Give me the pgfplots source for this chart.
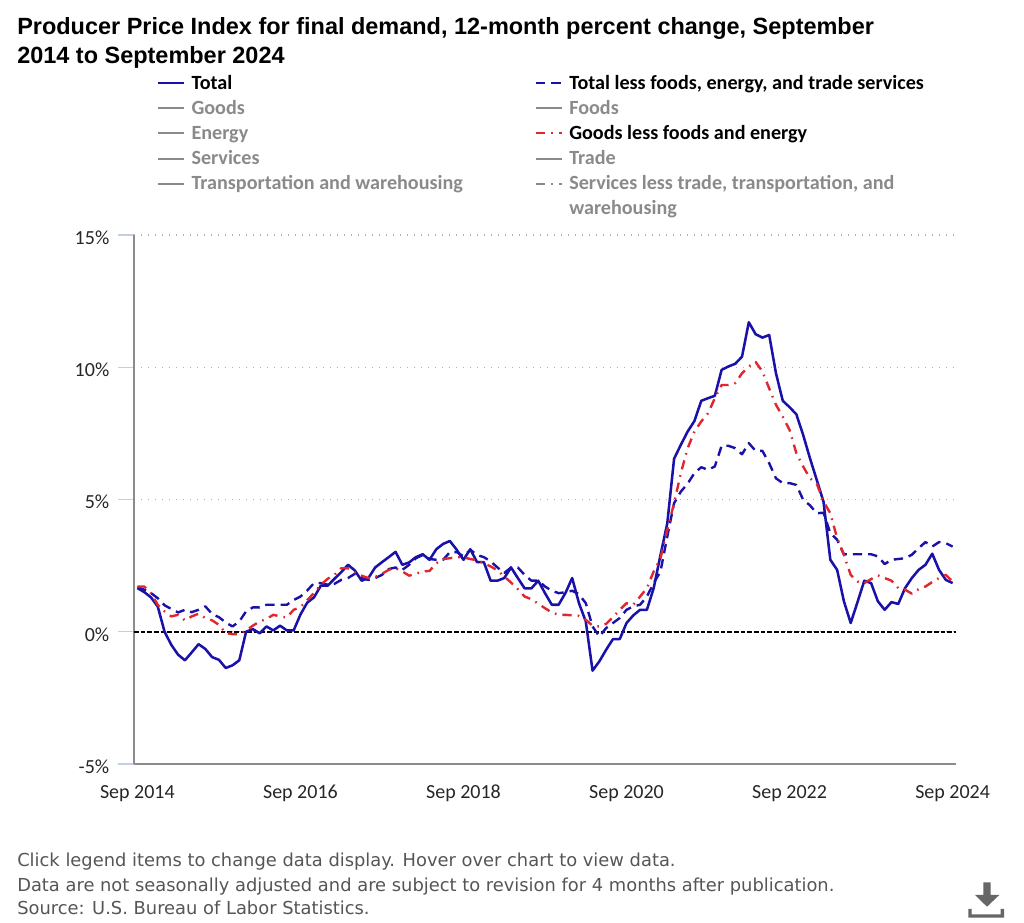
\documentclass[border=0pt]{standalone}
\usepackage{fontspec}
\setmainfont{Carlito}
\newfontfamily\titlefont{Liberation Sans}
\newfontfamily\notefont{DejaVu Sans}
\usepackage{pgfplots}
\usepackage{pgfplotstable}
\pgfplotsset{compat=1.18}

\definecolor{ppiblue}{HTML}{1A12A8}
\definecolor{ppired}{HTML}{E0262E}
\definecolor{offgray}{HTML}{8A8A8A}
\definecolor{tickblue}{HTML}{C0D0E0}
\definecolor{axisgray}{HTML}{8C8C8C}
\definecolor{gridgray}{HTML}{B0B0B0}
\definecolor{notegray}{HTML}{555555}

% months since Sep 2014, 12-month percent change
\pgfplotstableread{
i total core goods
0 1.65 1.69 1.71
1 1.50 1.59 1.71
2 1.30 1.46 1.46
3 0.95 1.27 1.02
4 0.00 1.00 0.77
5 -0.50 0.86 0.58
6 -0.87 0.73 0.64
7 -1.08 0.83 0.43
8 -0.78 0.74 0.58
9 -0.47 0.83 0.68
10 -0.65 0.96 0.52
11 -0.96 0.67 0.43
12 -1.06 0.55 0.26
13 -1.37 0.35 -0.05
14 -1.27 0.20 -0.09
15 -1.08 0.39 -0.09
16 0.00 0.77 0.05
17 0.10 0.92 0.23
18 -0.06 0.92 0.39
19 0.20 1.02 0.48
20 0.05 1.02 0.64
21 0.23 1.02 0.58
22 0.05 1.02 0.54
23 0.05 1.20 0.83
24 0.65 1.33 0.93
25 1.10 1.56 1.20
26 1.30 1.84 1.46
27 1.74 1.84 1.78
28 1.74 1.78 2.00
29 2.00 1.81 2.15
30 2.25 1.96 2.40
31 2.53 2.03 2.40
32 2.32 2.19 2.24
33 1.93 2.03 2.12
34 2.03 1.96 2.03
35 2.43 2.03 2.07
36 2.63 2.15 2.19
37 2.82 2.37 2.34
38 3.02 2.43 2.40
39 2.53 2.34 2.28
40 2.62 2.53 2.12
41 2.82 2.78 2.19
42 2.93 2.90 2.28
43 2.72 2.75 2.30
44 3.12 2.72 2.59
45 3.32 2.72 2.75
46 3.43 3.01 2.78
47 3.10 3.01 2.82
48 2.72 2.85 2.81
49 3.12 3.10 2.75
50 2.63 2.90 2.70
51 2.63 2.82 2.59
52 1.93 2.66 2.47
53 1.93 2.43 2.32
54 2.03 2.22 2.09
55 2.43 2.43 1.86
56 2.03 2.43 1.61
57 1.64 2.15 1.33
58 1.64 1.93 1.23
59 1.93 1.93 1.06
60 1.46 1.71 0.89
61 1.02 1.55 0.73
62 1.02 1.46 0.64
63 1.46 1.49 0.64
64 2.03 1.55 0.62
65 1.08 1.42 0.60
66 0.39 1.08 0.45
67 -1.47 0.20 0.23
68 -1.12 -0.18 0.20
69 -0.68 0.14 0.30
70 -0.28 0.33 0.55
71 -0.28 0.52 0.83
72 0.33 0.83 1.08
73 0.62 0.96 1.02
74 0.83 1.02 1.33
75 0.83 1.33 1.65
76 1.65 1.84 2.28
77 2.90 2.28 2.78
78 4.10 3.60 3.85
79 6.54 4.86 4.86
80 7.07 5.30 6.00
81 7.57 5.60 6.94
82 7.97 6.00 7.57
83 8.73 6.22 7.95
84 8.83 6.12 8.26
85 8.92 6.25 8.83
86 9.90 7.03 9.33
87 10.03 7.03 9.33
88 10.13 6.94 9.40
89 10.40 6.71 9.77
90 11.70 7.13 10.03
91 11.25 6.84 10.20
92 11.12 6.84 9.84
93 11.22 6.37 9.20
94 9.77 5.80 8.58
95 8.73 5.62 8.13
96 8.49 5.62 7.63
97 8.22 5.55 6.75
98 7.44 4.99 6.25
99 6.56 4.78 5.80
100 5.74 4.48 5.60
101 4.91 4.50 4.92
102 2.72 3.73 4.48
103 2.34 3.48 3.54
104 1.15 2.93 2.90
105 0.33 2.93 2.15
106 1.12 2.93 1.90
107 1.93 2.93 1.84
108 1.84 2.93 1.99
109 1.15 2.85 2.13
110 0.83 2.56 2.03
111 1.12 2.72 1.93
112 1.05 2.75 1.65
113 1.65 2.78 1.59
114 2.03 2.91 1.44
115 2.34 3.16 1.61
116 2.53 3.39 1.71
117 2.95 3.22 1.88
118 2.34 3.39 2.03
119 1.96 3.35 2.15
120 1.84 3.22 1.90
}\ppidata

\begin{document}
\begin{tikzpicture}
% page is 1024x923 px, 1px = 0.75pt
\useasboundingbox (0,0) rectangle (768pt,692.25pt);
\begin{axis}[
  at={(100.5pt,119.25pt)},anchor=south west,
  scale only axis,width=616.5pt,height=396.75pt,
  clip=false,
  axis x line=bottom,axis y line=left,
  axis line style={-,draw=axisgray,line width=1.2pt},
  xmin=-0.5,xmax=120.5,ymin=-5,ymax=15,
  xtick={0,24,48,72,96,120},
  xticklabels={Sep 2014,Sep 2016,Sep 2018,Sep 2020,Sep 2022,Sep 2024},
  ytick={-5,0,5,10,15},
  yticklabels={-5\%,0\%,5\%,10\%,15\%},
  tick label style={font=\fontsize{15}{18}\selectfont,text=black!85},
  tick align=outside,
  major tick length=12pt,
  y tick style={color=tickblue,line width=0.9pt},
  x tick style={draw=none},
  ymajorgrids,
  grid style={draw=gridgray,line width=1pt,dash pattern=on 0.8pt off 4.45pt},
  yticklabel style={xshift=-3pt,yshift=-2pt},
  xticklabel style={yshift=1pt,text height=11pt,text depth=3pt},
  legend columns=2,
  legend cell align=left,
  legend image code/.code={\draw[#1] (0pt,4.5pt) -- (19.5pt,4.5pt);},
  legend style={
    at={(17.25pt,520pt)},anchor=north west,
    draw=none,fill=none,inner sep=0pt,outer sep=0pt,
    font=\fontsize{15.1}{18.75}\selectfont\bfseries,
    /tikz/every even column/.append style={column sep=54pt},
    /tikz/column 1/.style={column sep=4.5pt},
    /tikz/column 3/.style={column sep=4.5pt},
    row sep=0pt,
    nodes={inner sep=0pt,minimum height=18.75pt,anchor=base west},
  },
]
\addplot[forget plot,black,line width=1.25pt,dash pattern=on 3.6pt off 1.4pt]
  coordinates{(-0.5,0)(120.5,0)};

\addplot[ppiblue,line width=1.9pt,line join=round] table[x=i,y=total]{\ppidata};
\addlegendentry{Total}
\addplot[ppiblue,line width=1.8pt,dash pattern=on 7pt off 4.5pt,line join=round] table[x=i,y=core]{\ppidata};
\addlegendentry{Total less foods, energy, and trade services}
\addlegendimage{offgray,line width=1.5pt}
\addlegendentry{\textcolor{offgray}{Goods}}
\addlegendimage{offgray,line width=1.5pt}
\addlegendentry{\textcolor{offgray}{Foods}}
\addlegendimage{offgray,line width=1.5pt}
\addlegendentry{\textcolor{offgray}{Energy}}
\addplot[ppired,line width=1.8pt,dash pattern=on 7pt off 4.5pt on 1.2pt off 4.5pt,line join=round] table[x=i,y=goods]{\ppidata};
\addlegendentry{Goods less foods and energy}
\addlegendimage{offgray,line width=1.5pt}
\addlegendentry{\textcolor{offgray}{Services}}
\addlegendimage{offgray,line width=1.5pt}
\addlegendentry{\textcolor{offgray}{Trade}}
\addlegendimage{offgray,line width=1.5pt}
\addlegendentry{\textcolor{offgray}{Transportation and warehousing}}
\addlegendimage{offgray,line width=1.5pt,dash pattern=on 7pt off 4.5pt on 1.2pt off 4.5pt}
\addlegendentry{\textcolor{offgray}{Services less trade, transportation, and}}
\addlegendimage{white,line width=0.1pt}
\addlegendentry{\phantom{x}}
\addlegendimage{white,line width=0.1pt}
\addlegendentry{\textcolor{offgray}{warehousing}}
\end{axis}

% title, notes and download icon, in px from the top left corner
\begin{scope}[x=0.75pt,y=-0.75pt,yshift=692.25pt]
\node[anchor=base west,inner sep=0pt,font=\titlefont\bfseries\fontsize{17.6}{20}\selectfont] at (17,35) {Producer Price Index for final demand, 12-month percent change, September};
\node[anchor=base west,inner sep=0pt,font=\titlefont\bfseries\fontsize{17.6}{20}\selectfont] at (17,64) {2014 to September 2024};
\node[anchor=base west,inner sep=0pt,text=notegray,font=\notefont\fontsize{13.4}{15}\selectfont] at (17,867) {Click legend items to change data display. Hover over chart to view data.};
\node[anchor=base west,inner sep=0pt,text=notegray,font=\notefont\fontsize{13.4}{15}\selectfont] at (17,892) {Data are not seasonally adjusted and are subject to revision for 4 months after publication.};
\node[anchor=base west,inner sep=0pt,text=notegray,font=\notefont\fontsize{13.4}{15}\selectfont] at (17,915) {Source: U.S. Bureau of Labor Statistics.};
\fill[black!60] (983.3,882.3) -- (990.7,882.3) -- (990.7,895) -- (999.3,895) -- (987,906.7) -- (975,895) -- (983.3,895) -- cycle;
\fill[black!60] (968.3,909) -- (971.6,909) -- (971.6,914.3) -- (1000.7,914.3) -- (1000.7,909) -- (1004,909) -- (1004,917.7) -- (968.3,917.7) -- cycle;
\end{scope}
\end{tikzpicture}
\end{document}
